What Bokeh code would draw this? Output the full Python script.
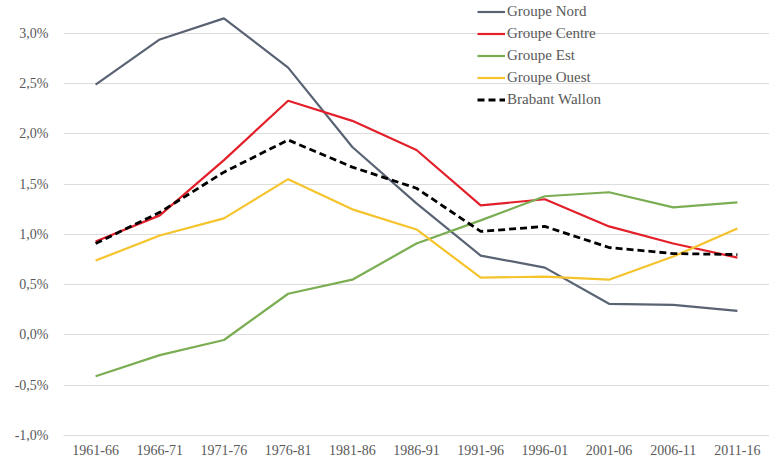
from bokeh.plotting import figure
from bokeh.models import FixedTicker, Range1d
from bokeh.embed import file_html
from bokeh.resources import INLINE

periods = ["1961-66", "1966-71", "1971-76", "1976-81", "1981-86", "1986-91",
           "1991-96", "1996-01", "2001-06", "2006-11", "2011-16"]
nord = [2.49, 2.94, 3.15, 2.66, 1.87, 1.31, 0.79, 0.67, 0.31, 0.30, 0.24]
centre = [0.93, 1.19, 1.74, 2.33, 2.13, 1.84, 1.29, 1.35, 1.08, 0.91, 0.77]
est = [-0.41, -0.20, -0.05, 0.41, 0.55, 0.91, 1.14, 1.38, 1.42, 1.27, 1.32]
ouest = [0.74, 0.99, 1.16, 1.55, 1.25, 1.05, 0.57, 0.58, 0.55, 0.78, 1.06]
brabant = [0.91, 1.22, 1.62, 1.94, 1.67, 1.46, 1.03, 1.08, 0.87, 0.81, 0.80]

y_ticks = [-1.0, -0.5, 0.0, 0.5, 1.0, 1.5, 2.0, 2.5, 3.0]
y_tick_labels = ["-1,0%", "-0,5%", "0,0%", "0,5%", "1,0%", "1,5%", "2,0%", "2,5%", "3,0%"]

FONT = "'Liberation Serif', 'Times New Roman', serif"
TXT = "#595959"
GRID = "#dcdcdc"

p = figure(x_range=periods, y_range=Range1d(-1.0, 3.3275), width=769, height=457,
           output_backend="svg", toolbar_location=None,
           min_border_left=63, min_border_right=0, min_border_top=0, min_border_bottom=21)

series = [
    (nord, "Groupe Nord", "#5a6373", None),
    (centre, "Groupe Centre", "#e3202a", None),
    (est, "Groupe Est", "#7bad52", None),
    (ouest, "Groupe Ouest", "#f5c32c", None),
    (brabant, "Brabant Wallon", "#000000", "7 4"),
]
for vals, name, col, dash in series:
    kw = dict(line_color=col, line_width=2.2, legend_label=name)
    if dash:
        kw["line_dash"] = dash
        kw["line_width"] = 2.8
    p.line(periods, vals, **kw)

p.outline_line_color = None
p.xgrid.grid_line_color = None
p.ygrid.grid_line_color = GRID
p.ygrid.ticker = FixedTicker(ticks=y_ticks)

p.yaxis.ticker = FixedTicker(ticks=y_ticks)
p.yaxis.major_label_overrides = {t: l for t, l in zip(y_ticks, y_tick_labels)}
p.yaxis.axis_line_color = None
p.yaxis.major_tick_line_color = None
p.yaxis.minor_tick_line_color = None
p.yaxis.major_label_standoff = 9
p.yaxis.major_label_text_font = FONT
p.yaxis.major_label_text_font_size = "14px"
p.yaxis.major_label_text_color = TXT

p.xaxis.axis_line_color = GRID
p.xaxis.major_tick_line_color = None
p.xaxis.minor_tick_line_color = None
p.xaxis.major_label_standoff = 3
p.xaxis.major_label_text_font = FONT
p.xaxis.major_label_text_font_size = "14px"
p.xaxis.major_label_text_color = TXT

lg = p.legend[0]
lg.location = (414, 327)
lg.label_text_font = FONT
lg.label_text_font_size = "15px"
lg.label_text_color = TXT
lg.label_height = 17
lg.glyph_height = 17
lg.glyph_width = 28
lg.spacing = 5
lg.padding = 0
lg.margin = 0
lg.label_standoff = 2
lg.background_fill_alpha = 0
lg.border_line_color = None

open("out.html", "w").write(file_html(p, INLINE))
